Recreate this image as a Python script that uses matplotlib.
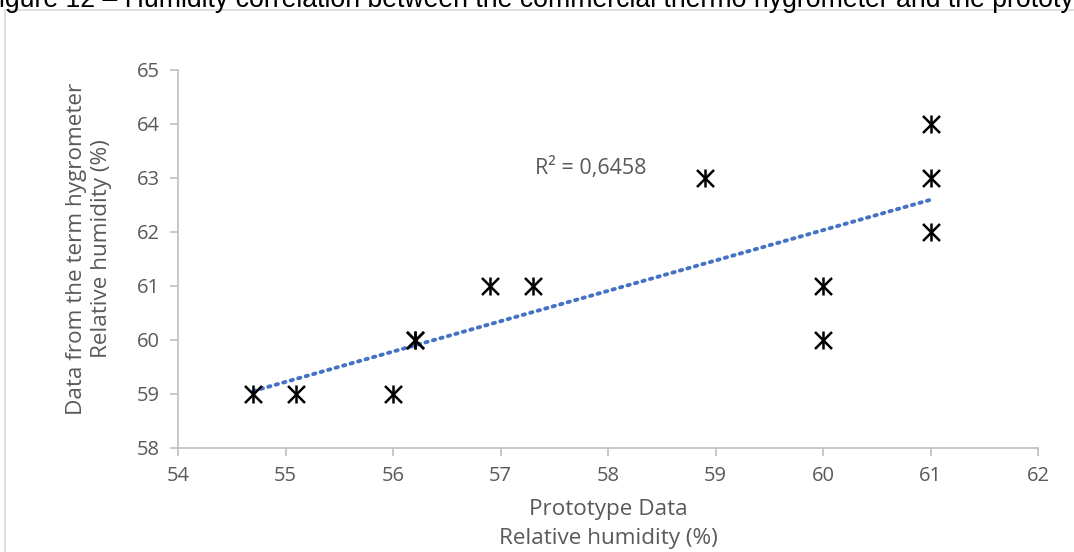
import numpy as np
import matplotlib.pyplot as plt
from matplotlib.patches import Rectangle

# prototype readings (x) vs commercial thermo-hygrometer readings (y)
proto_rh = [54.7, 55.1, 56.0, 56.2, 56.2, 56.9, 57.3, 58.9, 60.0, 60.0, 61.0, 61.0, 61.0]
meter_rh = [59, 59, 59, 60, 60, 61, 61, 63, 61, 60, 64, 63, 62]
r2_text = "R² = 0,6458"
title_text = "igure 12 – Humidity correlation between the commercial thermo hygrometer and the prototype"
x_label = "Prototype Data\nRelative humidity (%)"
y_label = "Data from the term hygrometer\nRelative humidity (%)"

x = np.array(proto_rh)
y = np.array(meter_rh)

fig = plt.figure(figsize=(10.74, 5.52), dpi=100)
ax = fig.add_axes([178 / 1074, 104 / 552, 860 / 1074, 378 / 552])

# outer chart frame
fig.patches.append(Rectangle((5 / 1074, -0.1), 1.2, (552 - 10) / 552 + 0.1,
                             transform=fig.transFigure, fill=False,
                             edgecolor='#d9d9d9', linewidth=1.2))

# figure caption, clipped at top like in the document
fig.text(-0.001, 1 - 7 / 552, title_text, family='Liberation Sans', fontsize=19.2,
         color='black', ha='left', va='baseline')

# linear trendline
k, b = np.polyfit(x, y, 1)
xt = np.array([x.min(), x.max()])
ax.plot(xt, k * xt + b, linestyle=(0, (0.6, 1.4)), color='#4472C4',
        linewidth=2.8, dash_capstyle='round', zorder=2)

# asterisk markers = x + vertical bar
ax.scatter(x, y, marker='x', s=150, color='black', linewidths=1.8, zorder=3)
ax.scatter(x, y, marker='|', s=150, color='black', linewidths=1.8, zorder=3)

ax.text(57.32, 63.19, r2_text, family='Open Sans', fontsize=15.5, color='#595959',
        va='center')

ax.set_xlim(54, 62)
ax.set_ylim(58, 65)
ax.set_xticks(range(54, 63))
ax.set_yticks(range(58, 66))

for s in ['top', 'right']:
    ax.spines[s].set_visible(False)
for s in ['left', 'bottom']:
    ax.spines[s].set_color('#bfbfbf')
    ax.spines[s].set_linewidth(1.2)

ax.tick_params(direction='out', length=6, width=1.2, color='#bfbfbf',
               labelcolor='#595959', labelsize=14.5, pad=7)
for lab in ax.get_xticklabels() + ax.get_yticklabels():
    lab.set_family('Open Sans')

# axis titles
fig.text(608 / 1074, 1 - 524 / 552, x_label, family='Open Sans', fontsize=16.2,
         color='#595959', ha='center', va='center', multialignment='center',
         linespacing=1.45)
fig.text(89 / 1074, 1 - 249 / 552, y_label, family='Open Sans', fontsize=16.2,
         color='#595959', ha='center', va='center', multialignment='center',
         rotation=90, linespacing=1.2)

fig.savefig('out.png', dpi=100)
